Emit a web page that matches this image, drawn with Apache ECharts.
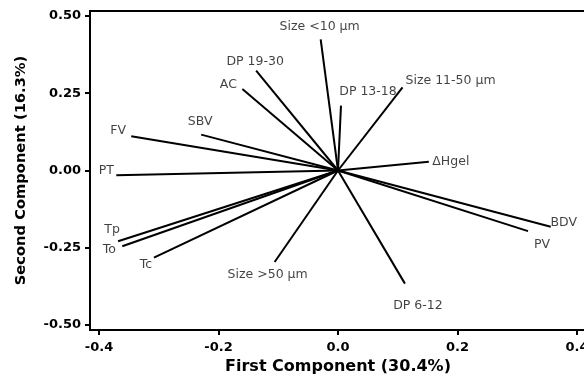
<!DOCTYPE html>
<html>
<head>
<meta charset="utf-8">
<script src="https://cdn.jsdelivr.net/npm/echarts@6/dist/echarts.min.js"></script>
<style>
  html, body { margin: 0; padding: 0; background: #fff; }
  #chart { width: 584px; height: 376px; }
</style>
</head>
<body>
<div id="chart"></div>
<script>
// loadings
const names = ["Size <10 μm", "DP 13-18", "Size 11-50 μm", "ΔHgel", "DP 19-30", "AC", "SBV", "FV", "PT",
  "Tp", "To", "Tc", "Size >50 μm", "BDV", "PV", "DP 6-12"];
const pc1 = [-0.029, 0.005, 0.108, 0.152, -0.137, -0.160, -0.229, -0.346, -0.371,
  -0.368, -0.361, -0.308, -0.106, 0.356, 0.318, 0.112];
const pc2 = [0.424, 0.210, 0.269, 0.028, 0.323, 0.264, 0.116, 0.111, -0.015,
  -0.229, -0.245, -0.282, -0.296, -0.182, -0.196, -0.366];
const xTicks = [-0.4, -0.2, 0.0, 0.2, 0.4];
const yTicks = [-0.5, -0.25, 0.0, 0.25, 0.5];

// label offsets (px) from the arrow tip, text centred
const labelShift = {
  "Size <10 μm": [-1, -13], "DP 13-18": [27, -14], "Size 11-50 μm": [48, -7], "ΔHgel": [22, 0],
  "DP 19-30": [-1, -9], "AC": [-14, -4], "SBV": [-1, -13], "FV": [-13, -5], "PT": [-10, -4],
  "Tp": [-6, -12], "To": [-13, 4], "Tc": [-8, 7], "Size >50 μm": [-7, 13], "BDV": [13, -4],
  "PV": [14, 14], "DP 6-12": [13, 22]
};

const chart = echarts.init(document.getElementById("chart"));
const font = "DejaVu Sans";

const option = {
  animation: false,
  grid: {
    left: 90, top: 11, right: -2, bottom: 46,
    containLabel: false, outerBoundsMode: "none",
    show: true, borderColor: "#000", borderWidth: 2
  },
  xAxis: {
    type: "value", min: -0.415, max: 0.415,
    name: "First Component (30.4%)", nameLocation: "middle", nameGap: 29,
    nameTextStyle: { fontFamily: font, fontWeight: "bold", fontSize: 16, color: "#000" },
    axisLine: { show: true, onZero: false, lineStyle: { color: "#000", width: 2 } },
    axisTick: { show: true, length: 5, customValues: xTicks, lineStyle: { color: "#000", width: 2 } },
    axisLabel: { customValues: xTicks, formatter: v => v.toFixed(1), fontFamily: font, fontWeight: "bold", fontSize: 13, color: "#000", margin: 11 },
    splitLine: { show: false }
  },
  yAxis: {
    type: "value", min: -0.516, max: 0.516,
    name: "Second Component (16.3%)", nameLocation: "middle", nameGap: 61,
    nameTextStyle: { fontFamily: font, fontWeight: "bold", fontSize: 14.7, color: "#000" },
    axisLine: { show: true, onZero: false, lineStyle: { color: "#000", width: 2 } },
    axisTick: { show: true, length: 5, customValues: yTicks, lineStyle: { color: "#000", width: 2 } },
    axisLabel: { customValues: yTicks, formatter: v => v.toFixed(2), fontFamily: font, fontWeight: "bold", fontSize: 13, color: "#000", margin: 9 },
    splitLine: { show: false }
  },
  series: [
    {
      type: "lines",
      coordinateSystem: "cartesian2d",
      silent: true,
      lineStyle: { color: "#000", width: 2, opacity: 1 },
      data: names.map((n, i) => ({ coords: [[0, 0], [pc1[i], pc2[i]]] }))
    },
    {
      type: "scatter",
      symbolSize: 0,
      silent: true,
      data: names.map((n, i) => ({
        value: [pc1[i], pc2[i]],
        name: n,
        label: { offset: labelShift[n] }
      })),
      label: {
        show: true, position: "inside", formatter: p => p.name,
        fontFamily: font, fontSize: 12.5, color: "#111", align: "center", verticalAlign: "middle"
      }
    }
  ]
};
chart.setOption(option);
</script>
</body>
</html>
